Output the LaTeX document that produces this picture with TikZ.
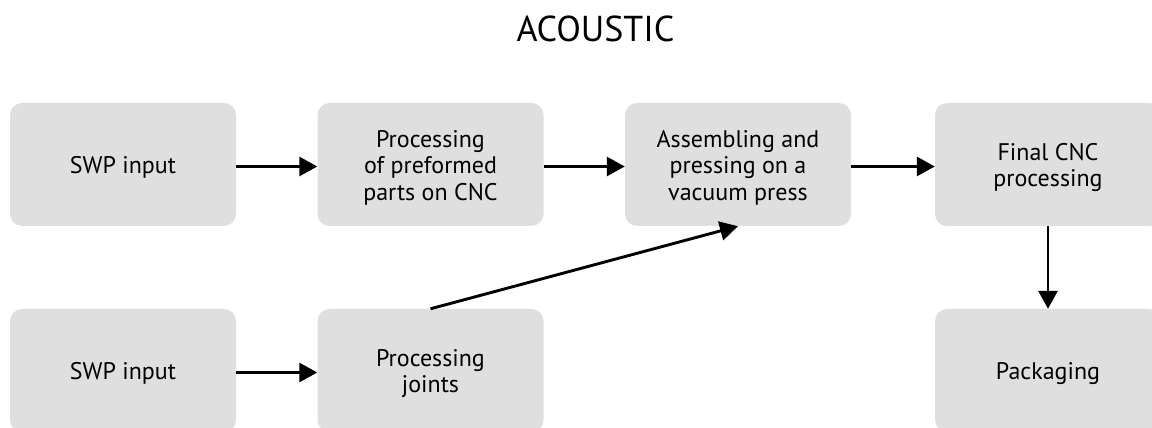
\documentclass[tikz,border=0pt]{standalone}
\usepackage{fontspec}
\setmainfont{PT Sans}
\usetikzlibrary{arrows.meta}
\definecolor{boxgray}{RGB}{223,223,223}
\tikzset{
  x=1pt,y=1pt,
  procbox/.style={fill=boxgray, rounded corners=12pt, minimum width=226pt, minimum height=123pt,
    inner sep=0pt},
  proctext/.style={inner sep=0pt, align=center, font=\fontsize{24}{26.5}\selectfont, text=black},
  flow/.style={line width=2.9pt, -{Triangle[length=18pt,width=19pt]}}
}
\begin{document}
\begin{tikzpicture}
\useasboundingbox (0,0) rectangle (1152,428);
\clip (0,0) rectangle (1152,428);
\node[anchor=base, font=\fontsize{36}{40}\selectfont] (title) at (595.5,386) {ACOUSTIC};
\node[procbox] (a) at (123,263.5) {};
\node[procbox] (b) at (430.5,263.5) {};
\node[procbox] (c) at (738,263.5) {};
\node[procbox] (d) at (1048,263.5) {};
\node[procbox] (e) at (123,57.5) {};
\node[procbox] (f) at (430.5,57.5) {};
\node[procbox] (g) at (1048,57.5) {};
\node[proctext] (at) at ([yshift=-3pt]a.center) {SWP input};
\node[proctext] (bt) at ([yshift=-3pt]b.center) {Processing\\of preformed\\parts on CNC};
\node[proctext] (ct) at ([yshift=-3pt]c.center) {Assembling and\\pressing on a\\vacuum press};
\node[proctext] (dt) at ([yshift=-3pt]d.center) {Final CNC\\processing};
\node[proctext] (et) at ([yshift=-3pt]e.center) {SWP input};
\node[proctext] (ft) at ([yshift=-3pt]f.center) {Processing\\joints};
\node[proctext] (gt) at ([yshift=-3pt]g.center) {Packaging};
\draw[flow] ([yshift=-2pt]a.east) -- ([yshift=-2pt]b.west);
\draw[flow] ([yshift=-2pt]b.east) -- ([yshift=-2pt]c.west);
\draw[flow] ([yshift=-2pt]c.east) -- ([yshift=-2pt]d.west);
\draw[flow] (d.south) -- (g.north);
\draw[flow] ([yshift=-2pt]e.east) -- ([yshift=-2pt]f.west);
\draw[flow] (f.north) -- (c.south);
\end{tikzpicture}
\end{document}
